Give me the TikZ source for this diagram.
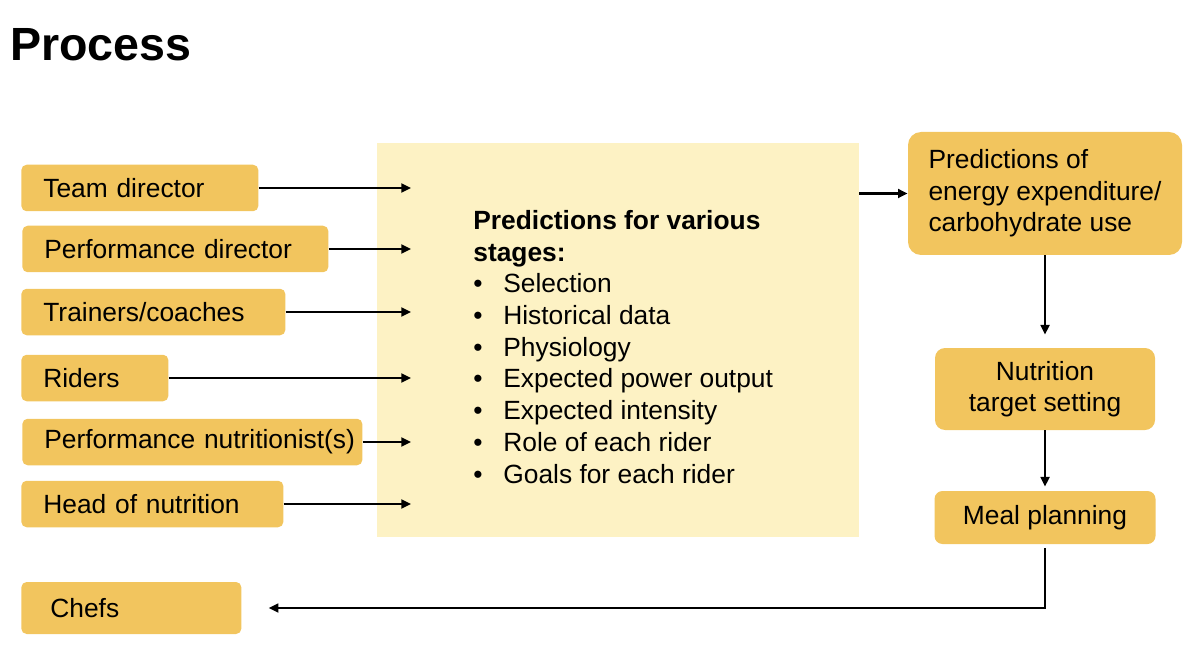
\documentclass[tikz,border=0pt]{standalone}
\usepackage{fontspec}
\setmainfont{Liberation Sans}
\usepackage{xcolor}
\usepackage{tikz}
\usetikzlibrary{shapes,arrows.meta,positioning,calc}

\definecolor{boxorange}{HTML}{F2C55E}
\definecolor{stagefill}{HTML}{FDF2C4}

\begin{document}
\begin{tikzpicture}[
    font=\fontsize{15}{18}\selectfont,
    rolebox/.style={rectangle, fill=boxorange, rounded corners=3pt, anchor=west, align=left, inner xsep=0.44cm, inner ysep=0pt, minimum height=0.93cm, text width=#1},
    stagebox/.style={rectangle, fill=stagefill, minimum width=9.64cm, minimum height=7.88cm},
    outbox/.style={rectangle, fill=boxorange, rounded corners=6pt, align=center, inner sep=0pt},
    arrow/.style={-{Triangle[length=5.5pt, width=5pt]}, line width=1.3pt, draw=black}
]
    \useasboundingbox (0,0) rectangle (24,-12.94);

    \node [anchor=base west, inner sep=0pt, font=\bfseries\fontsize{26.5}{30}\selectfont] (title) at (0.2,-1.22) {Process};

    % who feeds the stage predictions
    \node [rolebox=3.86cm] (td) at (0.42,-3.76) {Team director};
    \node [rolebox=5.24cm] (pd) at (0.44,-4.98) {Performance director};
    \node [rolebox=4.40cm] (tc) at (0.42,-6.24) {Trainers/coaches};
    \node [rolebox=2.06cm] (ri) at (0.42,-7.56) {Riders};
    \node [rolebox=5.92cm] (pn) at (0.44,-8.84) {\mbox{Performance nutritionist(s)}};
    \node [rolebox=4.36cm] (hn) at (0.42,-10.08) {Head of nutrition};
    \node [rolebox=3.24cm, inner xsep=0.58cm, minimum height=1.04cm] (ch) at (0.42,-12.16) {Chefs};

    \node [stagebox] (stages) at (12.36,-6.80) {};
    \node [anchor=base west, align=left, inner sep=0pt, font=\fontsize{15}{18.03}\selectfont] (stagelist) at (9.46,-9.66)
        {\textbf{Predictions for various}\\
         \textbf{stages:}\\
         \makebox[0.6cm][l]{\textbullet}Selection\\
         \makebox[0.6cm][l]{\textbullet}Historical data\\
         \makebox[0.6cm][l]{\textbullet}Physiology\\
         \makebox[0.6cm][l]{\textbullet}Expected power output\\
         \makebox[0.6cm][l]{\textbullet}Expected intensity\\
         \makebox[0.6cm][l]{\textbullet}Role of each rider\\
         \makebox[0.6cm][l]{\textbullet}Goals for each rider};

    \coordinate (in1) at (8.22,-3.76);
    \coordinate (in2) at (8.22,-4.98);
    \coordinate (in3) at (8.22,-6.24);
    \coordinate (in4) at (8.22,-7.56);
    \coordinate (in5) at (8.22,-8.84);
    \coordinate (in6) at (8.22,-10.08);

    % right column
    \node [outbox, align=left, minimum width=5.48cm, minimum height=2.46cm, rounded corners=0.26cm] (pee) at (20.9,-3.87) {Predictions of\\energy expenditure/\\carbohydrate use};
    \node [outbox, minimum width=4.40cm, minimum height=1.64cm, rounded corners=0.2cm] (nts) at (20.9,-7.78) {Nutrition\\target setting};
    \node [outbox, minimum width=4.42cm, minimum height=1.06cm, rounded corners=0.16cm] (meal) at (20.9,-10.35) {Meal planning};

    \draw [arrow] (td) -- (in1);
    \draw [arrow] (pd) -- (in2);
    \draw [arrow] (tc) -- (in3);
    \draw [arrow] (ri) -- (in4);
    \draw [arrow] (pn) -- (in5);
    \draw [arrow] (hn) -- (in6);

    \draw [arrow] (stages.east |- pee.west) -- (pee.west);
    \draw [arrow, shorten >=0.26cm] (pee) -- (nts);
    \draw [arrow, shorten >=0.08cm] (nts) -- (meal);
    \draw [arrow, shorten <=0.08cm, shorten >=0.54cm] (meal) |- (ch);
\end{tikzpicture}
\end{document}
